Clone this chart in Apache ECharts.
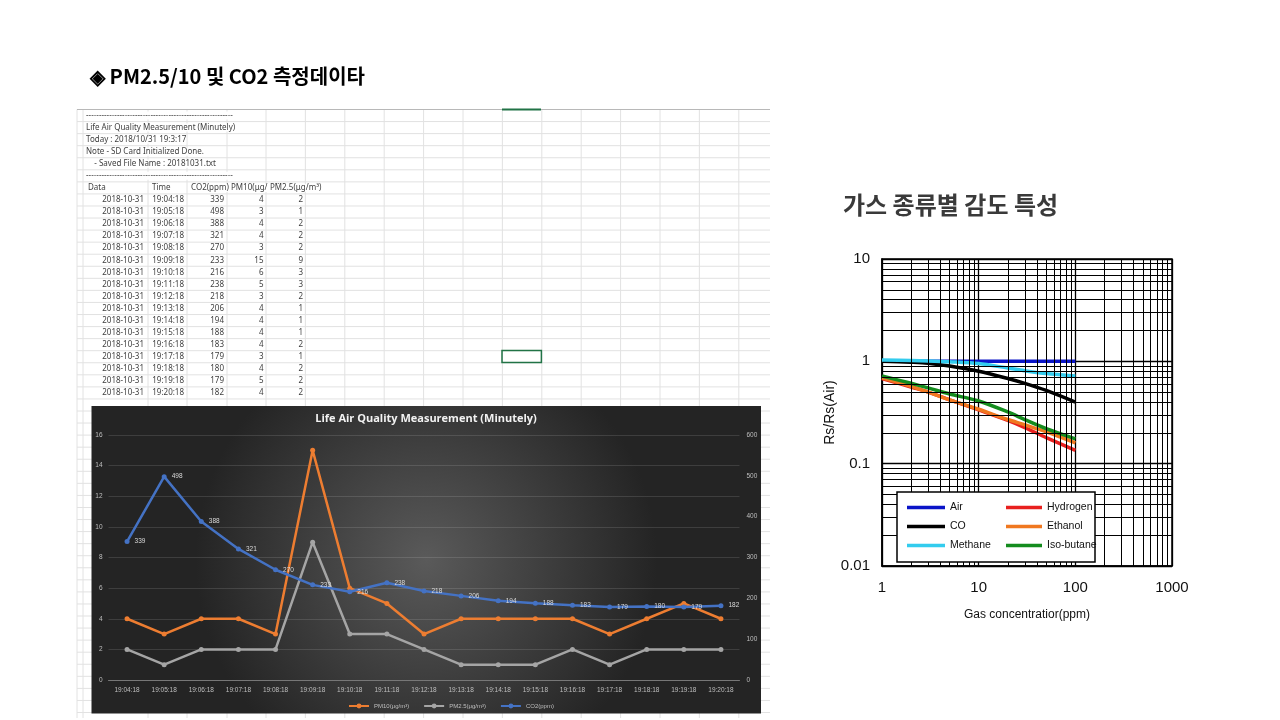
<!DOCTYPE html>
<html>
<head>
<meta charset="utf-8">
<script src="https://cdn.jsdelivr.net/npm/echarts@6/dist/echarts.min.js"></script>
<style>
html, body { margin: 0; padding: 0; background: #fff; }
#main { width: 1280px; height: 720px; }
</style>
</head>
<body>
<div id="main"></div>
<script>
// measurement log (left side)
const measureDate = '2018-10-31';
const times = ['19:04:18', '19:05:18', '19:06:18', '19:07:18', '19:08:18', '19:09:18', '19:10:18', '19:11:18',
    '19:12:18', '19:13:18', '19:14:18', '19:15:18', '19:16:18', '19:17:18', '19:18:18', '19:19:18', '19:20:18'];
const co2 = [339, 498, 388, 321, 270, 233, 216, 238, 218, 206, 194, 188, 183, 179, 180, 179, 182];
const pm10 = [4, 3, 4, 4, 3, 15, 6, 5, 3, 4, 4, 4, 4, 3, 4, 5, 4];
const pm25 = [2, 1, 2, 2, 2, 9, 3, 3, 2, 1, 1, 1, 2, 1, 2, 2, 2];
const logLines = [
    '---------------------------------------------------------',
    'Life Air Quality Measurement (Minutely)',
    'Today : 2018/10/31 19:3:17',
    'Note - SD Card Initialized Done.',
    '    - Saved File Name : 20181031.txt',
    '---------------------------------------------------------'
];
const sheetHeader = ['Data', 'Time', 'CO2(ppm)', 'PM10(μg/m³)', 'PM2.5(μg/m³)'];
const seriesNames = ['PM10(μg/m³)', 'PM2.5(μg/m³)', 'CO2(ppm)'];

// gas sensitivity (right side)
const conc = [1, 2, 3, 5, 10, 20, 30, 50, 100];
const air = [1, 1, 1, 1, 1, 1, 1, 1, 1];
const coGas = [1.0, 0.98, 0.96, 0.9, 0.8, 0.68, 0.61, 0.52, 0.4];
const methane = [1.03, 1.02, 1.01, 0.99, 0.95, 0.86, 0.81, 0.76, 0.72];
const hydrogen = [0.68, 0.56, 0.5, 0.42, 0.335, 0.265, 0.225, 0.18, 0.135];
const ethanol = [0.69, 0.57, 0.5, 0.42, 0.34, 0.27, 0.24, 0.205, 0.16];
const isobutane = [0.72, 0.61, 0.55, 0.48, 0.41, 0.32, 0.27, 0.22, 0.175];
const gasNames = ['Air', 'CO', 'Methane', 'Hydrogen', 'Ethanol', 'Iso-butane'];
const gasColors = ['#0a14c8', '#000000', '#33ccee', '#e8201e', '#f07820', '#148c1e'];
const minorX = [2, 3, 4, 5, 6, 7, 8, 9, 20, 30, 40, 50, 60, 70, 80, 90, 200, 300, 400, 500, 600, 700, 800, 900];
const minorY = [0.02, 0.03, 0.04, 0.05, 0.06, 0.07, 0.08, 0.09, 0.2, 0.3, 0.4, 0.5, 0.6, 0.7, 0.8, 0.9, 2, 3, 4, 5, 6, 7, 8, 9];

const pair = (ys) => conc.map((c, i) => [c, ys[i]]);
const gasData = [air, coGas, methane, hydrogen, ethanol, isobutane];

// spreadsheet drawn with graphic elements
const sheetFont = '8px "Noto Sans"';
const rowH = 12.06;
const sheetTop = 109.5;
const g = [];
g.push({ type: 'rect', z: -3, shape: { x: 77, y: sheetTop, width: 693, height: 718 - sheetTop }, style: { fill: '#fff' } });
for (let y = sheetTop + rowH; y < 718; y += rowH) {
    g.push({ type: 'line', z: -2, shape: { x1: 77, y1: y, x2: 770, y2: y }, style: { stroke: '#e2e2e2', lineWidth: 1 } });
}
const colLines = [77, 83, 148, 187, 227];
for (let x = 266; x < 770; x += 39.4) colLines.push(x);
colLines.forEach(x => {
    g.push({ type: 'line', z: -2, shape: { x1: x, y1: sheetTop, x2: x, y2: 718 }, style: { stroke: '#e2e2e2', lineWidth: 1 } });
});
g.push({ type: 'line', z: -2, shape: { x1: 77, y1: sheetTop, x2: 770, y2: sheetTop }, style: { stroke: '#b8b8b8', lineWidth: 1.2 } });
g.push({ type: 'line', z: -2, shape: { x1: 502, y1: sheetTop, x2: 541, y2: sheetTop }, style: { stroke: '#217346', lineWidth: 2 } });
g.push({ type: 'rect', z: -2, shape: { x: 502, y: 350.5, width: 39.4, height: 12 }, style: { fill: 'none', stroke: '#217346', lineWidth: 1.5 } });

const rowY = i => sheetTop + rowH * (i + 0.5);
logLines.forEach((t, i) => {
    g.push({ type: 'text', z: -1, x: 86, y: rowY(i), style: { text: t, font: sheetFont, fill: '#404040', verticalAlign: 'middle', backgroundColor: '#fff' } });
});
const headX = [86, 150, 189, 229, 268];
sheetHeader.forEach((t, i) => {
    g.push({ type: 'text', z: -1, x: headX[i], y: rowY(6), style: { text: t, font: sheetFont, fill: '#404040', verticalAlign: 'middle', backgroundColor: '#fff', padding: [0, 0, 0, 2] } });
});
const cellRight = [144, 184, 224, 263.5, 303];
times.forEach((t, i) => {
    const cells = [measureDate, t, co2[i], pm10[i], pm25[i]];
    cells.forEach((v, j) => {
        g.push({ type: 'text', z: -1, x: cellRight[j], y: rowY(7 + i), style: { text: String(v), font: sheetFont, fill: '#404040', align: 'right', verticalAlign: 'middle' } });
    });
});

// dark chart background
g.push({
    type: 'rect', z: -1, shape: { x: 91.5, y: 406, width: 669.5, height: 307.5 },
    style: { fill: new echarts.graphic.RadialGradient(0.5, 0.5, 0.75, [
        { offset: 0, color: '#5a5a5a' }, { offset: 1, color: '#242424' }]) }
});
g.push({ type: 'text', z: 10, x: 426, y: 419, style: { text: 'Life Air Quality Measurement (Minutely)', font: 'bold 11px "Open Sans"', fill: '#f2f2f2', align: 'center', verticalAlign: 'middle' } });

// titles
g.push({ type: 'text', z: 10, x: 90, y: 76, style: { text: '◈ PM2.5/10 및 CO2 측정데이타', font: 'bold 20px "Noto Sans CJK KR"', fill: '#000', verticalAlign: 'middle' } });
g.push({ type: 'text', z: 10, x: 843, y: 205, style: { text: '가스 종류별 감도 특성', font: 'bold 24px "Noto Sans CJK KR"', fill: '#3a3a3a', verticalAlign: 'middle', letterSpacing: 1 } });
// legend box of the gas chart
g.push({ type: 'rect', z: 8, shape: { x: 897, y: 492, width: 198, height: 70 }, style: { fill: '#fff', stroke: '#000', lineWidth: 1.5 } });

const darkLabel = { color: '#bfbfbf', fontSize: 6.5, fontFamily: 'Liberation Sans' };
const chart = echarts.init(document.getElementById('main'));
chart.setOption({
    animation: false,
    graphic: { elements: g },
    grid: [
        { left: 108.5, top: 435, width: 631, height: 245 },
        { left: 882, top: 259, width: 290, height: 307, show: true, backgroundColor: '#fff', borderColor: '#000', borderWidth: 1.5 }
    ],
    legend: [
        {
            data: seriesNames, left: 343, top: 698, itemWidth: 20, itemHeight: 6, itemGap: 14,
            textStyle: { color: '#bfbfbf', fontSize: 6, fontFamily: 'Liberation Sans' }, z: 10
        },
        {
            data: gasNames.slice(0, 3), orient: 'vertical', left: 902, top: 497, icon: 'rect',
            itemWidth: 38, itemHeight: 3.5, itemGap: 8, itemStyle: { borderWidth: 0 }, z: 10,
            textStyle: { color: '#111', fontSize: 10.5, fontFamily: 'Liberation Sans' }
        },
        {
            data: gasNames.slice(3), orient: 'vertical', left: 1001, top: 497, icon: 'rect',
            itemWidth: 36, itemHeight: 3.5, itemGap: 8, itemStyle: { borderWidth: 0 }, z: 10,
            textStyle: { color: '#111', fontSize: 10.5, fontFamily: 'Liberation Sans' }
        }
    ],
    xAxis: [
        {
            type: 'category', gridIndex: 0, data: times,
            axisLine: { lineStyle: { color: '#777' } }, axisTick: { show: false },
            axisLabel: Object.assign({ interval: 0, margin: 7 }, darkLabel)
        },
        {
            type: 'log', gridIndex: 1, logBase: 10, min: 1, max: 1000,
            name: 'Gas concentratior(ppm)', nameLocation: 'middle', nameGap: 43,
            nameTextStyle: { color: '#111', fontSize: 12, fontFamily: 'Liberation Sans' },
            axisLine: { lineStyle: { color: '#000', width: 1.5 } }, axisTick: { show: false },
            axisLabel: { color: '#111', fontSize: 15, fontFamily: 'Liberation Sans', margin: 14, formatter: v => String(+(+v).toPrecision(3)) },
            splitLine: { show: true, lineStyle: { color: '#000', width: 1.3 } }
        }
    ],
    yAxis: [
        {
            type: 'value', gridIndex: 0, min: 0, max: 16, interval: 2,
            axisLine: { show: false }, axisTick: { show: false },
            axisLabel: Object.assign({ margin: 6 }, darkLabel),
            splitLine: { lineStyle: { color: 'rgba(255,255,255,0.12)' } }
        },
        {
            type: 'value', gridIndex: 0, min: 0, max: 600, interval: 100, position: 'right',
            axisLine: { show: false }, axisTick: { show: false },
            axisLabel: Object.assign({ margin: 7 }, darkLabel),
            splitLine: { show: false }
        },
        {
            type: 'log', gridIndex: 1, logBase: 10, min: 0.01, max: 10,
            name: 'Rs/Rs(Air)', nameLocation: 'middle', nameGap: 45,
            nameTextStyle: { color: '#111', fontSize: 14, fontFamily: 'Liberation Sans' },
            axisLine: { lineStyle: { color: '#000', width: 1.5 } }, axisTick: { show: false },
            axisLabel: { color: '#111', fontSize: 15, fontFamily: 'Liberation Sans', margin: 12, formatter: v => String(+(+v).toPrecision(3)) },
            splitLine: { show: true, lineStyle: { color: '#000', width: 1.3 } }
        }
    ],
    series: [
        {
            name: seriesNames[0], type: 'line', xAxisIndex: 0, yAxisIndex: 0, data: pm10,
            color: '#ed7d31', symbol: 'circle', symbolSize: 5, lineStyle: { width: 2.5 }
        },
        {
            name: seriesNames[1], type: 'line', xAxisIndex: 0, yAxisIndex: 0, data: pm25,
            color: '#a5a5a5', symbol: 'circle', symbolSize: 5, lineStyle: { width: 2.5 }
        },
        {
            name: seriesNames[2], type: 'line', xAxisIndex: 0, yAxisIndex: 1, data: co2,
            color: '#4472c4', symbol: 'circle', symbolSize: 5, lineStyle: { width: 2.5 },
            label: { show: true, position: 'right', distance: 5, color: '#d9d9d9', fontSize: 6.5, fontFamily: 'Liberation Sans' }
        },
        {
            name: 'grid', type: 'line', xAxisIndex: 1, yAxisIndex: 2, data: [], z: 1,
            markLine: {
                silent: true, symbol: ['none', 'none'], label: { show: false },
                lineStyle: { color: '#000', width: 1, type: 'solid' },
                data: minorX.map(v => ({ xAxis: v })).concat(minorY.map(v => ({ yAxis: v })))
            }
        }
    ].concat(gasNames.map((n, i) => ({
        name: n, type: 'line', xAxisIndex: 1, yAxisIndex: 2, data: pair(gasData[i]),
        color: gasColors[i], showSymbol: false, smooth: 0.3, z: 3,
        lineStyle: { width: 3.5 }
    })))
});
</script>
</body>
</html>
